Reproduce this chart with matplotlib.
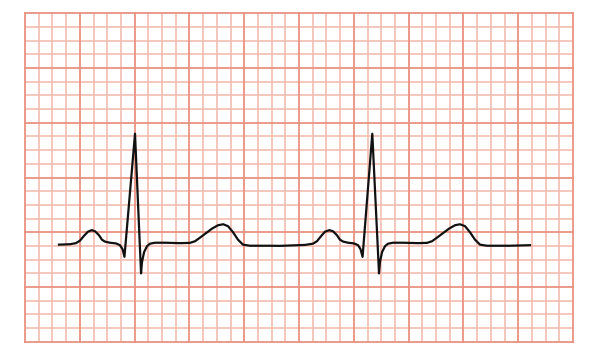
import numpy as np
import matplotlib
matplotlib.use("Agg")
import matplotlib.pyplot as plt

# trace, in small-square units (x from left edge, y from bottom edge)
trace_x = [2.48, 3.28, 3.72, 4.01, 4.31, 4.60, 4.87, 5.11, 5.40, 5.62, 5.84, 6.20, 6.64,
           6.93, 7.12, 7.26, 8.03, 8.47, 8.54, 8.69, 8.91, 9.12, 9.49, 10.22, 11.31,
           12.04, 12.41, 12.77, 13.21, 13.65, 14.09, 14.47, 14.82, 15.18, 15.55, 15.91,
           16.42, 17.88, 18.61, 20.44, 21.02,
           21.31, 21.61, 21.90, 22.21, 22.48, 22.77, 22.99, 23.23, 23.58, 24.01,
           24.31, 24.49, 24.64, 25.35, 25.84, 25.91, 26.06, 26.28, 26.50, 26.86, 27.59, 28.69,
           29.34, 29.71, 30.07, 30.51, 30.95, 31.39, 31.75, 32.12, 32.48, 32.85, 33.21,
           33.72, 35.40, 36.86]
trace_y = [7.09, 7.12, 7.20, 7.38, 7.74, 8.04, 8.15, 8.07, 7.78, 7.45, 7.31, 7.23, 7.18,
           7.05, 6.76, 6.20, 15.20, 4.99, 5.81, 6.54, 6.98, 7.16, 7.23, 7.23, 7.20,
           7.22, 7.34, 7.60, 7.93, 8.26, 8.51, 8.58, 8.44, 8.00, 7.45, 7.09,
           7.01, 7.01, 7.00, 7.07, 7.16,
           7.34, 7.71, 8.04, 8.15, 8.07, 7.78, 7.45, 7.31, 7.23, 7.18,
           7.05, 6.76, 6.20, 15.20, 4.99, 5.81, 6.54, 6.98, 7.16, 7.23, 7.23, 7.20,
           7.22, 7.34, 7.60, 7.93, 8.26, 8.51, 8.58, 8.44, 8.00, 7.45, 7.09,
           7.01, 7.01, 7.05]

n_cols = 40
n_rows = 24

fig = plt.figure(figsize=(6, 3.55), dpi=100)
ax = fig.add_axes([25 / 600, 13.4 / 355, 548 / 600, 328.2 / 355])
ax.set_xlim(0, n_cols)
ax.set_ylim(0, n_rows)

minor_c = "#f4bdb2"
major_c = "#e9927f"
for i in range(n_cols + 1):
    if i % 4:
        ax.axvline(i, color=minor_c, lw=1.2, zorder=1)
for j in range(n_rows + 1):
    if j % 4:
        ax.axhline(j, color=minor_c, lw=1.2, zorder=1)
for i in range(0, n_cols + 1, 4):
    ax.axvline(i, color=major_c, lw=1.3, zorder=2, clip_on=False)
for j in range(0, n_rows + 1, 4):
    ax.axhline(j, color=major_c, lw=1.3, zorder=2, clip_on=False)

ax.plot(trace_x, trace_y, color="#111111", lw=1.6, solid_joinstyle="round", zorder=3)

ax.set_xticks([])
ax.set_yticks([])
for s in ax.spines.values():
    s.set_visible(False)

fig.savefig("out.png", dpi=100)
